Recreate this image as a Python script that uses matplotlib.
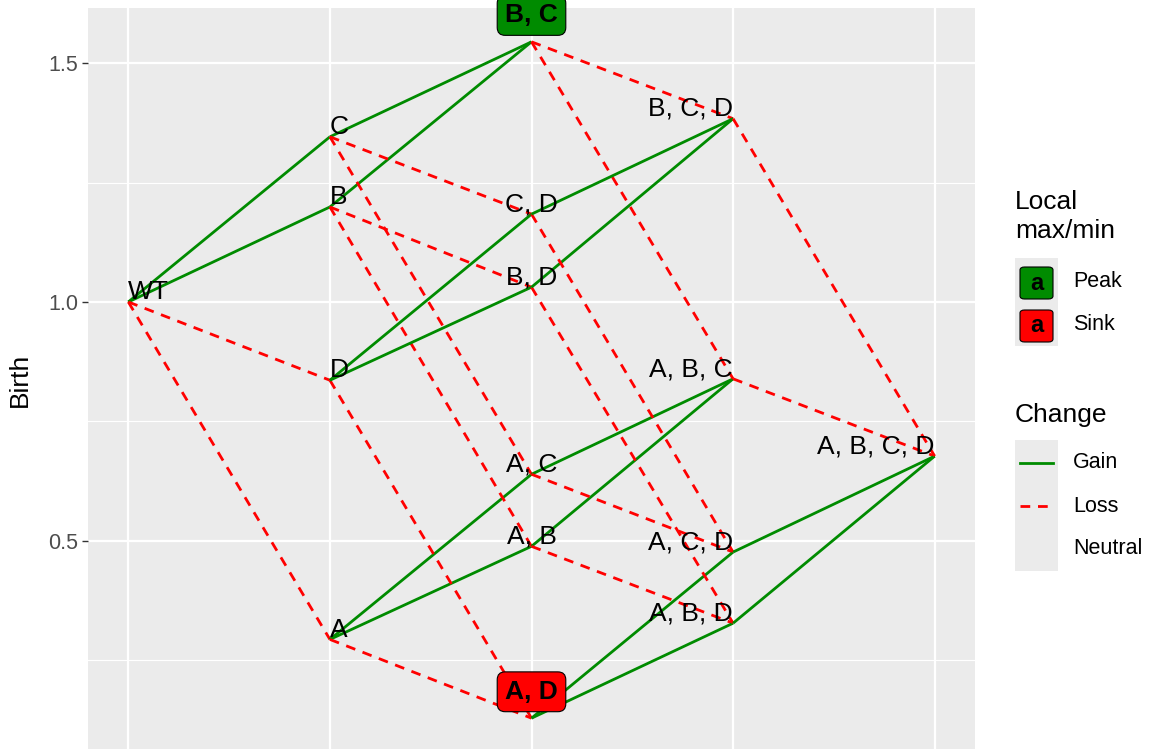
import matplotlib
matplotlib.use("Agg")
import matplotlib.pyplot as plt
from matplotlib.patches import Rectangle, FancyBboxPatch
from matplotlib.lines import Line2D

plt.rcParams['font.family'] = ['Liberation Sans', 'DejaVu Sans']

# Data
genotypes = ["WT", "A", "B", "C", "D",
             "A, B", "A, C", "A, D", "B, C", "B, D", "C, D",
             "A, B, C", "A, B, D", "A, C, D", "B, C, D", "A, B, C, D"]
birth = [1.000, 0.293, 1.199, 1.346, 0.836,
         0.488, 0.639, 0.128, 1.545, 1.031, 1.184,
         0.839, 0.327, 0.476, 1.384, 0.677]
peaks = ["B, C"]
sinks = ["A, D"]

GREEN = "#008B00"
RED = "#FF0000"
DASH = (0, (3.5, 2.8))

def muts(g):
    return frozenset() if g == "WT" else frozenset(g.split(", "))

sets = [muts(g) for g in genotypes]
nmut = [len(s) for s in sets]

W, H = 1153, 749
fig = plt.figure(figsize=(W / 100, H / 100), dpi=100)
ax = fig.add_axes([88 / W, -3 / H, (975 - 88) / W, (H + 3 - 8) / H])
ax.set_facecolor("#EBEBEB")
for s in ax.spines.values():
    s.set_visible(False)

ax.set_xlim(-0.2, 4.2)
ymin, ymax = min(birth), max(birth)
pad = 0.05 * (ymax - ymin)
ax.set_ylim(ymin - pad, ymax + pad)

ax.set_xticks(range(5))
ax.set_xticklabels([])
ax.tick_params(axis="x", length=0)
ax.set_yticks([0.5, 1.0, 1.5])
ax.set_yticklabels(["0.5", "1.0", "1.5"])
ax.set_yticks([0.25, 0.75, 1.25], minor=True)
ax.grid(which="major", color="white", lw=1.6)
ax.grid(which="minor", axis="y", color="white", lw=0.8)
ax.set_axisbelow(True)
ax.tick_params(axis="y", which="major", length=4.3, width=1.0, color="#333333",
               labelsize=15.5, labelcolor="#4D4D4D", pad=2.5)
ax.tick_params(axis="y", which="minor", length=0)
ax.set_ylabel("Birth", fontsize=19, labelpad=12)

# edges between genotypes that differ by one mutation
for i in range(len(genotypes)):
    for j in range(len(genotypes)):
        if nmut[j] == nmut[i] + 1 and sets[i] < sets[j]:
            gain = birth[j] > birth[i]
            ax.plot([nmut[i], nmut[j]], [birth[i], birth[j]],
                    color=GREEN if gain else RED, lw=2.0,
                    linestyle="-" if gain else DASH,
                    solid_capstyle="butt", zorder=2)

# node labels
for g, x, y in zip(genotypes, nmut, birth):
    if g in peaks or g in sinks:
        fc = GREEN if g in peaks else RED
        ax.annotate(g, (x, y), xytext=(0, 19), textcoords="offset points",
                    ha="center", va="center", fontsize=19, fontweight="bold",
                    bbox=dict(boxstyle="round,pad=0.3,rounding_size=0.3",
                              fc=fc, ec="black", lw=0.8),
                    zorder=5, annotation_clip=False)
    else:
        ha = "left" if x < 2 else ("center" if x == 2 else "right")
        ax.annotate(g, (x, y), xytext=(0, 2), textcoords="offset points",
                    ha=ha, va="baseline", fontsize=19, zorder=4)

# legend drawn on the figure
def fx(px):
    return px / W

def fy(py):
    return 1 - py / H

fig.text(fx(1015), fy(190), "Local\nmax/min", fontsize=19, ha="left", va="top",
         linespacing=1.25)
fig.patches.append(Rectangle((fx(1015), fy(346)), fx(43), 88 / H,
                             transform=fig.transFigure, fc="#EBEBEB", ec="none"))
for label, fc, cy in [("Peak", GREEN, 283), ("Sink", RED, 326)]:
    fig.patches.append(FancyBboxPatch((fx(1020), fy(cy + 16)), fx(33), 32 / H,
                                      boxstyle="round,pad=0,rounding_size=0.004",
                                      transform=fig.transFigure, fc=fc, ec="black", lw=0.8))
    fig.text(fx(1036.5), fy(cy), "a", fontsize=17, fontweight="bold",
             ha="center", va="center")
    fig.text(fx(1073), fy(cy - 2), label, fontsize=15.5, ha="left", va="center")

fig.text(fx(1015), fy(415), "Change", fontsize=19, ha="left", va="center")
fig.patches.append(Rectangle((fx(1015), fy(571)), fx(43), 131 / H,
                             transform=fig.transFigure, fc="#EBEBEB", ec="none"))
fig.lines.append(Line2D([fx(1020), fx(1053)], [fy(463), fy(463)], color=GREEN,
                        lw=2.0, transform=fig.transFigure))
fig.lines.append(Line2D([fx(1020), fx(1053)], [fy(506), fy(506)], color=RED,
                        lw=2.0, linestyle=DASH, transform=fig.transFigure))
for label, cy in [("Gain", 463), ("Loss", 506), ("Neutral", 549)]:
    fig.text(fx(1073), fy(cy), label, fontsize=15.5, ha="left", va="center")

fig.savefig("out.png", dpi=100)
